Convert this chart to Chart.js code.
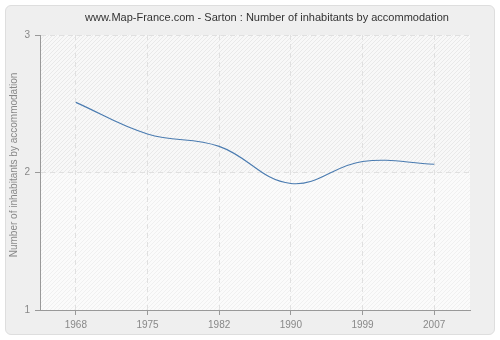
<!DOCTYPE html>
<html>
<head>
<meta charset="utf-8">
<script src="https://cdn.jsdelivr.net/npm/chart.js@4.4.0/dist/chart.umd.min.js"></script>
<style>
  html, body { margin: 0; padding: 0; background: #fff; }
  #wrap { position: relative; width: 500px; height: 340px; }
  #card {
    position: absolute; left: 5px; top: 5px; width: 488px; height: 328px;
    background: #efefef; border: 1px solid #dedede; border-radius: 6px;
  }
  #chart { position: absolute; left: 0; top: 0; }
</style>
</head>
<body>
<div id="wrap">
  <div id="card"></div>
  <canvas id="chart" width="500" height="340"></canvas>
</div>
<script>
// Data
const years = ['1968', '1975', '1982', '1990', '1999', '2007'];
const inhabitants = [2.51, 2.28, 2.19, 1.92, 2.08, 2.06];
const yTicks = [1, 2, 3];

const titleText = 'www.Map-France.com - Sarton : Number of inhabitants by accommodation';
const yTitleText = 'Number of inhabitants by accommodation';
const fontFamily = '"Liberation Sans", Arial, sans-serif';

// hatch pattern for plot background
function makeHatch(bg, line) {
  const c = document.createElement('canvas');
  c.width = 4; c.height = 4;
  const g = c.getContext('2d');
  g.fillStyle = bg;
  g.fillRect(0, 0, 4, 4);
  g.strokeStyle = line;
  g.lineWidth = 1;
  g.beginPath();
  g.moveTo(0, 4); g.lineTo(4, 0);
  g.moveTo(-1, 1); g.lineTo(1, -1);
  g.moveTo(3, 5); g.lineTo(5, 3);
  g.stroke();
  return g.createPattern(c, 'repeat');
}

const plotBackground = {
  id: 'plotBackground',
  beforeDraw(chart) {
    const { ctx, chartArea: a, scales } = chart;
    const mid = scales.y.getPixelForValue(2);
    ctx.save();
    ctx.fillStyle = makeHatch('#f8f8f8', '#e9e9e9');
    ctx.fillRect(a.left, a.top, a.right - a.left, mid - a.top);
    ctx.fillStyle = makeHatch('#fbfbfb', '#f0f0f0');
    ctx.fillRect(a.left, mid, a.right - a.left, a.bottom - mid);
    ctx.restore();
  }
};

const textPlugin = {
  id: 'textPlugin',
  afterDraw(chart) {
    const ctx = chart.ctx;
    ctx.save();
    ctx.font = '11px ' + fontFamily;
    ctx.fillStyle = '#333';
    ctx.textAlign = 'center';
    ctx.textBaseline = 'middle';
    ctx.fillText(titleText, 267, 18);
    ctx.translate(14, 165);
    ctx.rotate(-Math.PI / 2);
    ctx.font = '10px ' + fontFamily;
    ctx.fillStyle = '#888';
    ctx.fillText(yTitleText, 0, 0);
    ctx.restore();
  }
};

new Chart(document.getElementById('chart').getContext('2d'), {
  type: 'line',
  data: {
    labels: years,
    datasets: [{
      data: inhabitants,
      borderColor: '#4a7bb0',
      borderWidth: 1.1,
      pointRadius: 0,
      tension: 0.4,
      fill: false
    }]
  },
  options: {
    responsive: false,
    animation: false,
    layout: { padding: { left: 0, right: 30, top: 35, bottom: 0 } },
    plugins: {
      legend: { display: false },
      tooltip: { enabled: false },
      title: { display: false }
    },
    scales: {
      x: {
        type: 'category',
        offset: true,
        afterFit(s) { s.height = 30; },
        grid: {
          offset: false,
          color: '#e0e0e0',
          tickColor: '#999',
          tickLength: 5
        },
        border: { color: '#999', width: 1, dash: [5, 4] },
        ticks: {
          color: '#888',
          padding: 4,
          font: { family: fontFamily, size: 10 }
        }
      },
      y: {
        min: 1,
        max: 3,
        afterFit(s) { s.width = 40; },
        afterBuildTicks(s) { s.ticks = yTicks.map(v => ({ value: v })); },
        grid: {
          color: '#e0e0e0',
          tickColor: '#999',
          tickLength: 5
        },
        border: { color: '#999', width: 1, dash: [5, 4] },
        ticks: {
          color: '#888',
          padding: 5,
          font: { family: fontFamily, size: 10 }
        }
      }
    }
  },
  plugins: [plotBackground, textPlugin]
});
</script>
</body>
</html>
